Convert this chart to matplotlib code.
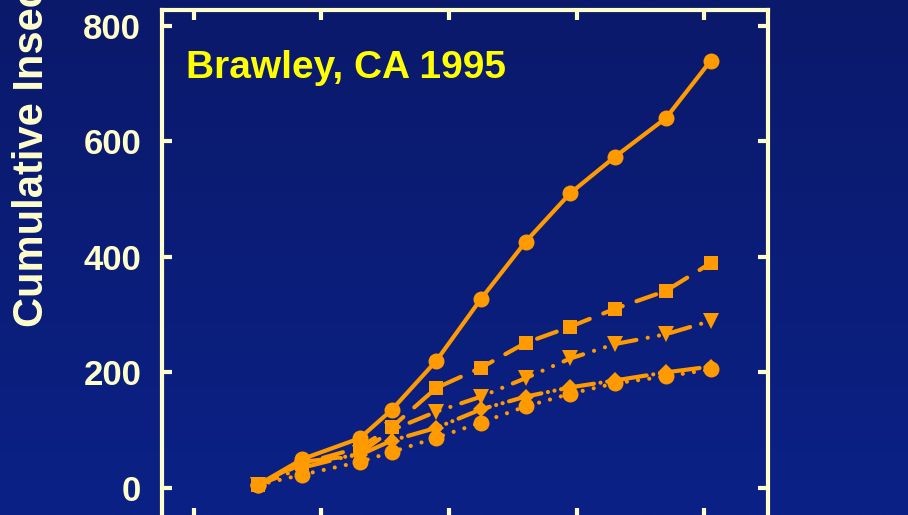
import numpy as np
import matplotlib
matplotlib.use("Agg")
import matplotlib.pyplot as plt
from matplotlib.colors import LinearSegmentedColormap

# Sampling days and cumulative counts for each treatment
days = [10, 17, 26, 31, 38, 45, 52, 59, 66, 74, 81]
series_circle_solid = [5, 50, 86, 135, 220, 327, 426, 510, 573, 640, 739]
series_square_dash = [5, 42, 70, 105, 173, 208, 251, 279, 310, 341, 389]
series_tri_dashdot = [5, 35, 60, 100, 132, 158, 190, 224, 249, 266, 289]
series_diamond = [5, 45, 57, 82, 104, 136, 158, 174, 186, 200, 210]
series_circle_dot = [5, 23, 45, 62, 87, 113, 141, 163, 181, 193, 205]

y_ticks = [0, 200, 400, 600, 800]
x_ticks = [0, 20, 40, 60, 80]
title = "Brawley, CA 1995"
ylabel = "Cumulative Insects"

ORANGE = "#FF9A00"
CREAM = "#FFFFCC"
YELLOW = "#FFFF00"

plt.rcParams["font.family"] = ["Liberation Sans", "DejaVu Sans"]
plt.rcParams["font.weight"] = "bold"

fig = plt.figure(figsize=(9.08, 5.15), dpi=100)

# vertical navy gradient behind everything
bg = fig.add_axes([0, 0, 1, 1], zorder=-10)
cmap = LinearSegmentedColormap.from_list("navy", ["#0a196a", "#0b2186"])
grad = np.linspace(0, 1, 256).reshape(-1, 1)
bg.imshow(grad, aspect="auto", cmap=cmap, extent=[0, 1, 0, 1], origin="upper")
bg.set_axis_off()

ax = fig.add_axes([162 / 908, 1 - 518 / 515, (768 - 162) / 908, (518 - 10) / 515])
ax.set_facecolor("none")

lw = 3.0
common = dict(color=ORANGE, lw=lw, mew=0, dash_capstyle="round",
              solid_capstyle="round")

ax.plot(days, series_circle_dot, linestyle=(0, (0.01, 2.7)), marker="o",
        ms=11.5, zorder=3, **common)
ax.plot(days, series_diamond, linestyle=(0, (8, 1.6, 0.01, 1.6, 0.01, 1.6)),
        marker="D", ms=8.5, zorder=4, **common)
ax.plot(days, series_tri_dashdot,
        linestyle=(0, (5, 2.75, 0.01, 2.75, 0.01, 2.75)), marker="v",
        ms=11, zorder=5, **common)
ax.plot(days, series_square_dash, linestyle=(0, (5, 3.5)), marker="s",
        ms=10.5, zorder=6, **common)
ax.plot(days, series_circle_solid, linestyle="-", marker="o", ms=11.5,
        zorder=7, **common)

ax.set_xlim(-5, 90)
ax.set_ylim(-52, 827)
ax.set_xticks(x_ticks)
ax.set_yticks(y_ticks)
ax.set_yticklabels([str(v) for v in y_ticks])

for s in ax.spines.values():
    s.set_color(CREAM)
    s.set_linewidth(3)

ax.tick_params(axis="both", which="both", direction="in", length=7.5,
               width=3, color=CREAM, top=True, right=True,
               labelbottom=False, labelcolor=CREAM, labelsize=25, pad=15)
for t in ax.get_yticklabels():
    t.set_fontweight("bold")

fig.text(186 / 908, 1 - 78 / 515, title, color=YELLOW, fontsize=28,
         fontweight="bold", ha="left", va="baseline")

fig.text(43 / 908, 1 - 327 / 515, ylabel, color=CREAM, fontsize=30,
         fontweight="bold", rotation=90, rotation_mode="anchor",
         ha="left", va="baseline")

fig.savefig("out.png", dpi=100)
